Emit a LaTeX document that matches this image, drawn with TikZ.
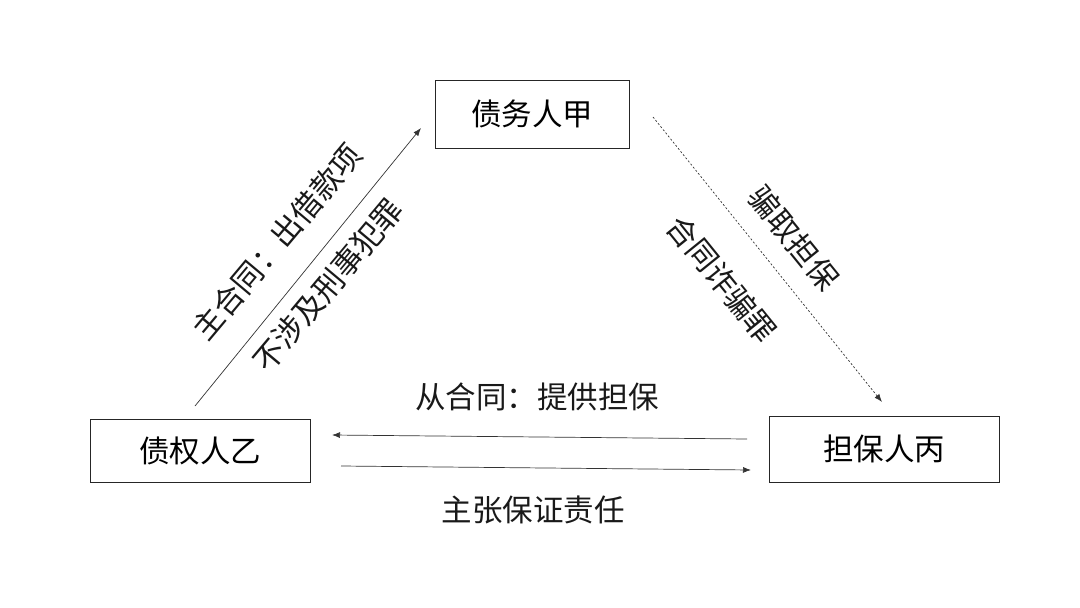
\documentclass[tikz,border=0pt]{standalone}
\usepackage{fontspec}
\setmainfont{Noto Sans CJK SC}
\usetikzlibrary{arrows.meta}
\tikzset{
	kasten/.style={draw=black!85, line width=0.8pt, inner sep=0pt, font=\fontsize{30.5}{33}\selectfont},
	pfeil/.style={draw=black!80, line width=0.7pt, -{Latex[length=8pt,width=6pt]}},
	beschr/.style={inner sep=0pt, font=\fontsize{30.5}{33}\selectfont, text=black!90}
}
\begin{document}
\begin{tikzpicture}[x=1pt, y=-1pt]
	\useasboundingbox (0,0) rectangle (1080,608);
	% Parteien
	\node[kasten, minimum width=194pt, minimum height=68pt] (jia) at (532,114) {债务人甲};
	\node[kasten, minimum width=220pt, minimum height=63pt] (yi) at (200,450.5) {债权人乙};
	\node[kasten, minimum width=230pt, minimum height=66pt] (bing) at (884,449) {担保人丙};
	% Endpunkte der Pfeile
	\coordinate (yiOben) at (195,406);
	\coordinate (jiaLinks) at (421,128);
	\coordinate (jiaRechts) at (653,117);
	\coordinate (bingOben) at (882,402);
	\coordinate (bingLinks1) at (747,439);
	\coordinate (yiRechts1) at (332,435);
	\coordinate (yiRechts2) at (341,466);
	\coordinate (bingLinks2) at (751,470);
	% Pfeile
	\draw[pfeil] (yiOben) -- (jiaLinks);
	\draw[pfeil, dash pattern=on 2pt off 2pt] (jiaRechts) -- (bingOben);
	\draw[pfeil] (bingLinks1) -- (yiRechts1);
	\draw[pfeil] (yiRechts2) -- (bingLinks2);
	% Beschriftungen
	\node[beschr, rotate=50] (hauptvertrag) at (277,242) {主合同：出借款项};
	\node[beschr, rotate=50] (keinDelikt) at (328,285) {不涉及刑事犯罪};
	\node[beschr, rotate=-51] (erschleichen) at (794,238) {骗取担保};
	\node[beschr, rotate=-51] (betrug) at (722,279) {合同诈骗罪};
	\node[beschr] (nebenvertrag) at (537,397) {从合同：提供担保};
	\node[beschr] (buergschaft) at (533,510) {主张保证责任};
\end{tikzpicture}
\end{document}
